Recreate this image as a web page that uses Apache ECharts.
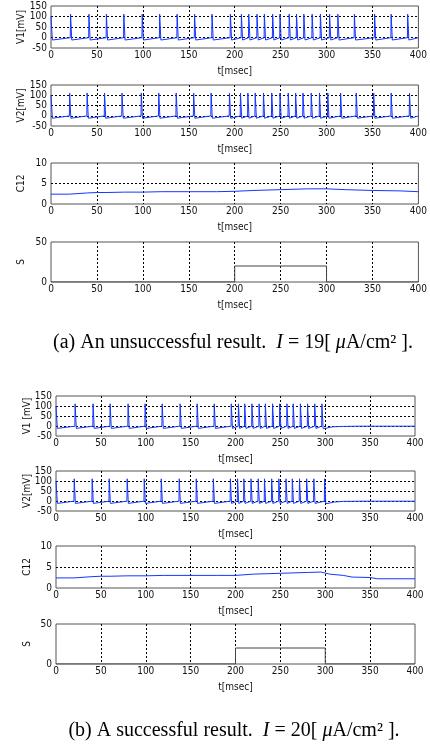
<!DOCTYPE html>
<html>
<head>
<meta charset="utf-8">
<script src="https://cdn.jsdelivr.net/npm/echarts@6/dist/echarts.min.js"></script>
<style>
  html, body { margin: 0; padding: 0; background: #fff; }
  #ec { width: 430px; height: 749px; }
</style>
</head>
<body>
<div id="ec"></div>
<script>
// time axis ticks (msec)
var tTicks = [0, 50, 100, 150, 200, 250, 300, 350, 400];

// spike onset times [msec]
var v1aSpikes = [21, 41, 60, 79, 99, 118, 137, 156, 175, 195, 207, 215, 224, 232, 241, 249, 259, 267, 275, 284, 293, 303, 312, 330, 352, 370, 388];
var v2aSpikes = [20, 39, 58, 77, 98, 117, 136, 155, 174, 194, 206, 214, 222, 231, 240, 249, 258, 266, 274, 283, 292, 301, 315, 332, 351, 370, 390];
var v1bSpikes = [21, 41, 60, 80, 99, 118, 138, 157, 176, 195, 203, 210, 218, 226, 233, 241, 249, 257, 264, 272, 280, 288, 296];
var v2bSpikes = [20, 40, 59, 79, 98, 117, 137, 156, 175, 194, 202, 209, 217, 225, 232, 240, 248, 256, 263, 271, 279, 287, 299];

// membrane levels [mV]: start value, spike peak, post-spike trough, pre-spike level
var vStart = 100;
var vPeak = 111;
var vTrough = -12;
var vPre = -1;
// (b): resting level after firing stops
var v1bTail = [[300, -12], [308, -4], [320, -2], [340, -1], [360, -1], [400, -1]];
var v2bTail = [[303, -12], [310, -5], [320, -2], [340, -1], [360, -1], [400, -1]];

// C12 read at sample times
var c12T = [0, 20, 21, 40, 50, 60, 80, 100, 120, 150, 180, 200, 220, 250, 280, 300, 320, 350, 380, 400];
var c12a = [2.4, 2.4, 2.7, 2.7, 2.8, 2.8, 2.9, 2.9, 3.0, 3.0, 3.0, 3.1, 3.3, 3.5, 3.7, 3.7, 3.5, 3.3, 3.2, 3.0];
var c12bT = [0, 20, 21, 40, 50, 60, 80, 100, 120, 150, 180, 200, 220, 250, 280, 295, 305, 320, 330, 350, 358, 400];
var c12b = [2.4, 2.4, 2.7, 2.7, 2.8, 2.8, 2.9, 2.9, 3.0, 3.0, 3.0, 3.0, 3.3, 3.5, 3.7, 3.8, 3.3, 3.0, 2.6, 2.5, 2.2, 2.2];

// stimulus S
var sT = [0, 200, 200, 300, 300, 400];
var sV = [0, 0, 20, 20, 0, 0];

function spikeTrain(times, tail) {
  var pts = [[0, vStart], [1.5, vTrough]];
  times.forEach(function (t) {
    pts.push([t, vPre], [t + 0.3, vPeak], [t + 1.6, vTrough]);
  });
  if (tail) {
    pts = pts.concat(tail);
  } else {
    pts.push([400, vPre]);
  }
  return pts;
}
function pairs(xs, ys) {
  return xs.map(function (x, i) { return [x, ys[i]]; });
}

var numFont = "'DejaVu Sans Condensed', 'DejaVu Sans', sans-serif";
var blue = '#1536ff';

// plot boxes: [left, right, top, height]
var boxes = [
  [51, 11, 6, 42], [51, 11, 85, 41], [51, 11, 163, 41], [51, 11, 242, 40],
  [56, 15, 396, 40], [56, 15, 471, 40], [56, 15, 546, 42], [56, 15, 624, 40]
];
var yDefs = [
  { name: 'V1[mV]', min: -50, max: 150, interval: 50 },
  { name: 'V2[mV]', min: -50, max: 150, interval: 50 },
  { name: 'C12', min: 0, max: 10, interval: 5 },
  { name: 'S', min: 0, max: 50, interval: 50 },
  { name: 'V1 [mV]', min: -50, max: 150, interval: 50 },
  { name: 'V2[mV]', min: -50, max: 150, interval: 50 },
  { name: 'C12', min: 0, max: 10, interval: 5 },
  { name: 'S', min: 0, max: 50, interval: 50 }
];
var seriesData = [
  spikeTrain(v1aSpikes), spikeTrain(v2aSpikes), pairs(c12T, c12a), pairs(sT, sV),
  spikeTrain(v1bSpikes, v1bTail), spikeTrain(v2bSpikes, v2bTail), pairs(c12bT, c12b), pairs(sT, sV)
];

var dash = { color: '#000', width: 1, type: [2, 2] };

var capRich = {
  n: { fontFamily: 'Liberation Serif', fontSize: 20, fontWeight: 'normal', fill: '#000' },
  i: { fontFamily: 'Liberation Serif', fontSize: 20, fontWeight: 'normal', fontStyle: 'italic', fill: '#000' }
};

var option = {
  animation: false,
  backgroundColor: '#fff',
  grid: boxes.map(function (b) {
    return { left: b[0], right: b[1], top: b[2], height: b[3], show: true,
      borderColor: '#555', borderWidth: 1, backgroundColor: 'transparent' };
  }),
  xAxis: boxes.map(function (b, i) {
    return {
      type: 'value', gridIndex: i, min: tTicks[0], max: tTicks[tTicks.length - 1], interval: 50,
      name: 't[msec]', nameLocation: 'middle', nameGap: 18, nameMoveOverlap: false,
      nameTextStyle: { fontFamily: numFont, fontSize: 10, color: '#111' },
      axisLine: { show: false }, axisTick: { show: false },
      axisLabel: { fontFamily: numFont, fontSize: 10, color: '#111', margin: 2,
        hideOverlap: false, showMinLabel: true, showMaxLabel: true },
      splitLine: { show: true, showMinLine: false, showMaxLine: false, lineStyle: dash }
    };
  }),
  yAxis: yDefs.map(function (d, i) {
    return {
      type: 'value', gridIndex: i, min: d.min, max: d.max, interval: d.interval,
      name: d.name, nameLocation: 'middle', nameGap: i < 4 ? 25 : 24, nameMoveOverlap: false,
      nameTextStyle: { fontFamily: numFont, fontSize: 10, color: '#111' },
      axisLine: { show: false }, axisTick: { show: false },
      axisLabel: { fontFamily: numFont, fontSize: 10, color: '#111', margin: 4,
        hideOverlap: false, showMinLabel: true, showMaxLabel: true },
      splitLine: { show: true, showMinLine: false, showMaxLine: false, lineStyle: dash }
    };
  }),
  series: seriesData.map(function (data, i) {
    var isS = (i % 4) === 3;
    return {
      type: 'line', xAxisIndex: i, yAxisIndex: i, data: data,
      showSymbol: false, symbol: 'none', silent: true,
      lineStyle: { color: isS ? '#444' : blue, width: 1 }
    };
  }),
  graphic: [
    {
      type: 'text', x: 233, y: 343, silent: true,
      style: {
        text: '{n|(a) An unsuccessful result.  }{i|I}{n| = 19[ }{i|μ}{n|A/cm² ].}',
        rich: capRich, align: 'center', verticalAlign: 'middle'
      }
    },
    {
      type: 'text', x: 234, y: 731, silent: true,
      style: {
        text: '{n|(b) A successful result.  }{i|I}{n| = 20[ }{i|μ}{n|A/cm² ].}',
        rich: capRich, align: 'center', verticalAlign: 'middle'
      }
    }
  ]
};

var myChart = echarts.init(document.getElementById('ec'));
myChart.setOption(option);
</script>
</body>
</html>
